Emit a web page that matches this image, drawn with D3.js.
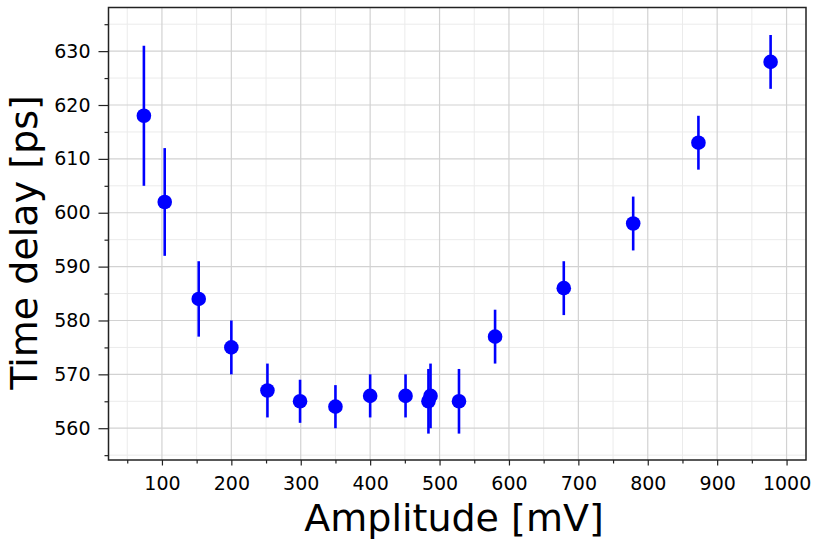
<!DOCTYPE html>
<html>
<head>
<meta charset="utf-8">
<script src="https://cdn.jsdelivr.net/npm/d3@7"></script>
<style>
  body { margin: 0; background: #fff; }
  text { font-family: "DejaVu Sans", sans-serif; fill: #000; }
</style>
</head>
<body>
<div id="chart"></div>
<script>
// measured amplitude [mV], delay [ps] and error [ps]
const amplitude = [74, 104, 153, 200, 252, 299, 350, 400, 451, 484, 487, 528, 580, 679, 779, 873, 977];
const delay     = [618, 602, 584, 575, 567, 565, 564, 566, 566, 565, 566, 565, 577, 586, 598, 613, 628];
const delayErr  = [13, 10, 7, 5, 5, 4, 4, 4, 4, 6, 6, 6, 5, 5, 5, 5, 5];
const xTicks = [100, 200, 300, 400, 500, 600, 700, 800, 900, 1000];
const yTicks = [560, 570, 580, 590, 600, 610, 620, 630];

const width = 815, height = 541;
const margin = {top: 7.5, right: 9, bottom: 81, left: 108.5};
const w = width - margin.left - margin.right;
const h = height - margin.top - margin.bottom;

const points = amplitude.map(function(a, i) {
    return {x: a, y: delay[i], e: delayErr[i]};
});

const x = d3.scaleLinear().domain([23, 1028]).range([0, w]);
const y = d3.scaleLinear().domain([554.1, 638.1]).range([h, 0]);

const svg = d3.select("#chart")
              .append("svg")
              .attr("width", width)
              .attr("height", height);

const g = svg.append("g")
             .attr("transform", "translate(" + margin.left + "," + margin.top + ")");

// minor grid
const xMinor = d3.range(50, 1001, 50).filter(function(v) { return v % 100 !== 0; });
const yMinor = d3.range(555, 636, 5).filter(function(v) { return v % 10 !== 0; });

g.append("g").selectAll("line")
 .data(xMinor).enter().append("line")
 .attr("x1", function(d) { return x(d); }).attr("x2", function(d) { return x(d); })
 .attr("y1", 0).attr("y2", h)
 .attr("stroke", "#ebebeb").attr("stroke-width", 1);

g.append("g").selectAll("line")
 .data(yMinor).enter().append("line")
 .attr("y1", function(d) { return y(d); }).attr("y2", function(d) { return y(d); })
 .attr("x1", 0).attr("x2", w)
 .attr("stroke", "#ebebeb").attr("stroke-width", 1);

// major grid
g.append("g").selectAll("line")
 .data(xTicks).enter().append("line")
 .attr("x1", function(d) { return x(d); }).attr("x2", function(d) { return x(d); })
 .attr("y1", 0).attr("y2", h)
 .attr("stroke", "#d2d2d2").attr("stroke-width", 1.2);

g.append("g").selectAll("line")
 .data(yTicks).enter().append("line")
 .attr("y1", function(d) { return y(d); }).attr("y2", function(d) { return y(d); })
 .attr("x1", 0).attr("x2", w)
 .attr("stroke", "#d2d2d2").attr("stroke-width", 1.2);

// axes
const xAxis = g.append("g")
               .attr("transform", "translate(0," + h + ")")
               .call(d3.axisBottom(x).tickValues(xTicks).tickSize(5.5).tickPadding(11)
                       .tickFormat(d3.format("d")));
const xAxisMinor = g.append("g")
               .attr("transform", "translate(0," + h + ")")
               .call(d3.axisBottom(x).tickValues(xMinor).tickSize(3.5).tickFormat(""));
const yAxis = g.append("g")
               .call(d3.axisLeft(y).tickValues(yTicks).tickSize(10).tickPadding(8));
const yAxisMinor = g.append("g")
               .call(d3.axisLeft(y).tickValues(yMinor).tickSize(4).tickFormat(""));

[xAxis, xAxisMinor, yAxis, yAxisMinor].forEach(function(a) {
    a.select(".domain").remove();
    a.selectAll(".tick line").attr("stroke", "#222").attr("stroke-width", 1.2);
});
[xAxis, yAxis].forEach(function(a) {
    a.selectAll(".tick text")
     .attr("font-size", 19)
     .attr("font-family", "DejaVu Sans")
     .attr("fill", "#000");
});

// error bars
g.append("g").selectAll("line")
 .data(points).enter().append("line")
 .attr("x1", function(d) { return x(d.x); }).attr("x2", function(d) { return x(d.x); })
 .attr("y1", function(d) { return y(d.y - d.e); })
 .attr("y2", function(d) { return y(d.y + d.e); })
 .attr("stroke", "#0000ff").attr("stroke-width", 2.6);

g.append("g").selectAll("circle")
 .data(points).enter().append("circle")
 .attr("cx", function(d) { return x(d.x); })
 .attr("cy", function(d) { return y(d.y); })
 .attr("r", 7.3)
 .attr("fill", "#0000ff");

// frame
g.append("rect")
 .attr("width", w).attr("height", h)
 .attr("fill", "none").attr("stroke", "#222").attr("stroke-width", 1.5);

// labels
svg.append("text")
   .attr("x", 454)
   .attr("y", 531)
   .attr("text-anchor", "middle")
   .attr("font-size", 38)
   .text("Amplitude [mV]");

svg.append("text")
   .attr("transform", "translate(37,242.5) rotate(-90)")
   .attr("text-anchor", "middle")
   .attr("font-size", 38)
   .text("Time delay [ps]");
</script>
</body>
</html>
